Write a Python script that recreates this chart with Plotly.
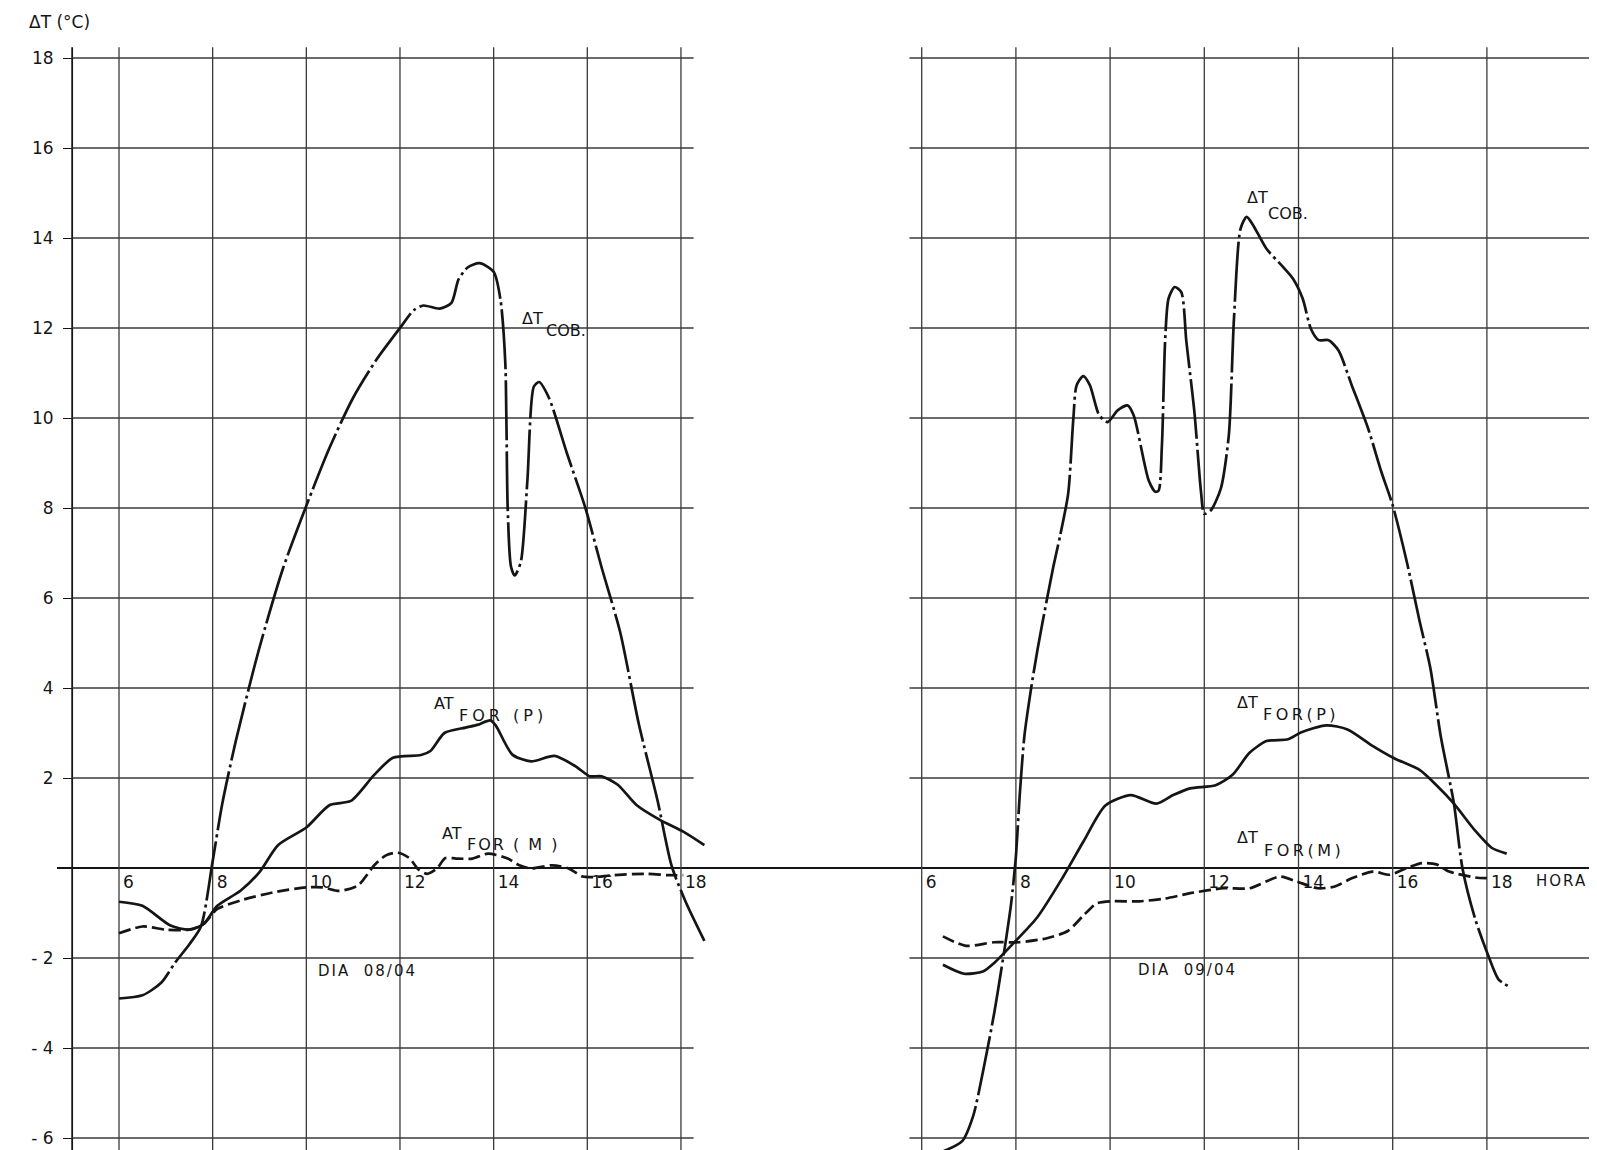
import plotly.graph_objects as go

# ---------------- data ----------------
x_ticks = [6, 8, 10, 12, 14, 16, 18]
x_ticktext = ["6", "8", "10", "12", "14", "16", "18"]
y_ticks = [18, 16, 14, 12, 10, 8, 6, 4, 2, -2, -4, -6]
y_ticktext = ["18", "16", "14", "12", "10", "8", "6", "4", "2", "- 2", "- 4", "- 6"]
grid_levels = [18, 16, 14, 12, 10, 8, 6, 4, 2, -2, -4, -6]

# Dia 08/04 (left panel)
cob_l_h = [6.0, 6.5, 6.9, 7.2, 7.5, 7.75, 8.0, 8.2, 8.5, 9.0, 9.5, 10.0, 10.5, 11.0, 11.5, 12.0, 12.3, 12.5,
           12.85, 13.1, 13.25, 13.45, 13.7, 14.0, 14.15, 14.25, 14.3, 14.37, 14.45, 14.58, 14.72, 14.86, 14.97,
           15.18, 15.57, 15.96, 16.3, 16.7, 17.1, 17.5, 17.8, 18.1, 18.5]
cob_l_v = [-2.9, -2.83, -2.55, -2.1, -1.7, -1.3, 0.15, 1.4, 2.85, 4.9, 6.65, 8.05, 9.35, 10.45, 11.3, 12.0, 12.4,
           12.5, 12.43, 12.56, 13.08, 13.35, 13.44, 13.25, 12.6, 11.2, 8.0, 6.7, 6.5, 6.8, 8.6, 10.7, 10.8,
           10.45, 9.2, 8.0, 6.7, 5.25, 3.2, 1.5, 0.05, -0.75, -1.62]

forp_l_h = [6.0, 6.5, 7.1, 7.5, 7.8, 8.1, 8.6, 9.0, 9.4, 10.0, 10.5, 10.95, 11.45, 11.85, 12.45, 12.65, 12.95,
            13.4, 13.65, 13.93, 14.05, 14.4, 14.8, 15.3, 15.75, 16.05, 16.3, 16.65, 17.05, 17.55, 18.05, 18.5]
forp_l_v = [-0.75, -0.84, -1.28, -1.37, -1.25, -0.84, -0.5, -0.09, 0.51, 0.9, 1.4, 1.49, 2.07, 2.45, 2.51, 2.6,
            3.0, 3.12, 3.18, 3.28, 3.16, 2.52, 2.37, 2.49, 2.26, 2.04, 2.04, 1.85, 1.4, 1.07, 0.81, 0.51]

form_l_h = [6.0, 6.5, 7.0, 7.5, 7.8, 8.1, 8.6, 9.3, 10.0, 10.35, 10.7, 11.1, 11.45, 11.7, 11.95, 12.2, 12.4,
            12.58, 12.78, 12.97, 13.2, 13.55, 13.88, 14.3, 14.55, 14.8, 15.25, 15.6, 15.9, 16.15, 16.55, 17.25,
            17.75, 18.05]
form_l_v = [-1.45, -1.3, -1.37, -1.37, -1.25, -0.91, -0.72, -0.54, -0.43, -0.43, -0.51, -0.39, 0.06, 0.28, 0.34,
            0.22, -0.04, -0.13, -0.02, 0.22, 0.21, 0.21, 0.32, 0.21, 0.06, -0.01, 0.06, -0.01, -0.19, -0.2, -0.16,
            -0.13, -0.16, -0.16]

# Dia 09/04 (right panel)
cob_r_h = [6.45, 6.86, 7.09, 7.31, 7.54, 7.69, 7.8, 7.9, 8.0, 8.08, 8.18, 8.32, 8.46, 8.66, 8.8, 8.94, 9.11,
           9.22, 9.29, 9.43, 9.57, 9.77, 9.95, 10.16, 10.37, 10.5, 10.82, 10.96, 11.03, 11.1, 11.17, 11.24,
           11.37, 11.51, 11.62, 11.79, 11.93, 12.0, 12.14, 12.35, 12.52, 12.63, 12.77, 12.9, 13.04, 13.32,
           13.67, 13.88, 14.09, 14.26, 14.43, 14.64, 14.85, 15.13, 15.48, 15.76, 16.0, 16.3, 16.57, 16.8,
           17.02, 17.3, 17.48, 17.75, 18.02, 18.25, 18.5]
cob_r_v = [-6.3, -6.07, -5.52, -4.48, -3.22, -2.26, -1.52, -0.78, 0.26, 1.6, 2.93, 3.97, 4.86, 5.98, 6.72, 7.39,
           8.32, 9.99, 10.73, 10.93, 10.73, 10.06, 9.91, 10.17, 10.28, 10.06, 8.61, 8.36, 8.39, 9.39, 11.76,
           12.65, 12.91, 12.8, 11.69, 10.13, 8.36, 7.87, 7.95, 8.43, 9.61, 12.21, 14.21, 14.47, 14.28, 13.76,
           13.36, 13.1, 12.65, 11.99, 11.73, 11.73, 11.5, 10.73, 9.76, 8.8, 8.06, 6.8, 5.49, 4.44, 2.93, 1.43,
           0.0, -1.13, -1.92, -2.48, -2.65]

forp_r_h = [6.45, 6.9, 7.3, 7.55, 7.95, 8.45, 9.0, 9.44, 9.9, 10.44, 10.98, 11.34, 11.7, 12.24, 12.6, 12.96,
            13.32, 13.78, 14.05, 14.59, 15.04, 15.58, 16.03, 16.57, 16.93, 17.3, 17.75, 18.1, 18.42]
forp_r_v = [-2.15, -2.35, -2.3, -2.1, -1.67, -1.1, -0.2, 0.6, 1.39, 1.62, 1.43, 1.62, 1.77, 1.84, 2.07, 2.56,
            2.82, 2.86, 3.01, 3.17, 3.08, 2.71, 2.44, 2.18, 1.84, 1.43, 0.83, 0.45, 0.32]

form_r_h = [6.45, 6.94, 7.54, 8.06, 8.66, 9.1, 9.44, 9.71, 10.03, 10.62, 11.16, 11.7, 12.42, 12.96, 13.6, 13.96,
            14.41, 14.77, 15.13, 15.58, 15.94, 16.3, 16.62, 16.93, 17.2, 17.75, 18.1]
form_r_v = [-1.52, -1.73, -1.65, -1.65, -1.56, -1.4, -1.05, -0.79, -0.74, -0.74, -0.68, -0.56, -0.45, -0.45,
            -0.19, -0.3, -0.45, -0.41, -0.23, -0.08, -0.15, 0.0, 0.11, 0.08, -0.08, -0.21, -0.23]

# ---------------- styles ----------------
INK = "#151515"
GRID = "#3a3a3a"
FONT = "DejaVu Sans"
W, H = 1597, 1150
OFF = 8  # page body margin compensation (px)
DASHDOT = "60px,4px,3px,4px"
DASHED = "12px,5px"

fig = go.Figure()


def curve(xs, ys, xa, dash, name):
    fig.add_trace(go.Scatter(
        x=xs, y=ys, xaxis=xa, yaxis="y", mode="lines", name=name,
        line=dict(color=INK, width=2.7, dash=dash, shape="spline", smoothing=0.7),
        showlegend=False, hoverinfo="skip"))


curve(cob_l_h, cob_l_v, "x", DASHDOT, "ΔT COB 08/04")
curve(forp_l_h, forp_l_v, "x", "solid", "ΔT FOR(P) 08/04")
curve(form_l_h, form_l_v, "x", DASHED, "ΔT FOR(M) 08/04")
curve(cob_r_h, cob_r_v, "x2", DASHDOT, "ΔT COB 09/04")
curve(forp_r_h, forp_r_v, "x2", "solid", "ΔT FOR(P) 09/04")
curve(form_r_h, form_r_v, "x2", DASHED, "ΔT FOR(M) 09/04")

# ---------------- grid (shapes built from tick arrays) ----------------
shapes = []
grid_line = dict(color=GRID, width=1.3)
v_top, v_bot = 18.24, -6.6
left_axis_h, left_end_h = 5.0, 18.27
right_start_h, right_end_h = 5.74, 20.2

shapes.append(dict(type="line", xref="x", yref="y", x0=left_axis_h, x1=left_axis_h, y0=v_bot, y1=v_top,
                   line=dict(color=INK, width=1.8), layer="below"))
for lv in grid_levels:
    shapes.append(dict(type="line", xref="x", yref="y", x0=left_axis_h, x1=left_end_h, y0=lv, y1=lv,
                       line=grid_line, layer="below"))
    shapes.append(dict(type="line", xref="x2", yref="y", x0=right_start_h, x1=right_end_h, y0=lv, y1=lv,
                       line=grid_line, layer="below"))
for h in x_ticks:
    shapes.append(dict(type="line", xref="x", yref="y", x0=h, x1=h, y0=v_bot, y1=v_top,
                       line=grid_line, layer="below"))
    shapes.append(dict(type="line", xref="x2", yref="y", x0=h, x1=h, y0=v_bot, y1=v_top,
                       line=grid_line, layer="below"))
shapes.append(dict(type="line", xref="paper", yref="y", x0=(57 - OFF) / W, x1=(1594 - OFF) / W, y0=0, y1=0,
                   line=dict(color=INK, width=2.2), layer="below"))

# ---------------- annotations ----------------
ann = []


def label(text, x, y, xref, size=16, spacing=0):
    if spacing:
        text = '<span style="letter-spacing:%spx">%s</span>' % (spacing, text)
    ann.append(dict(text=text, x=x, y=y, xref=xref, yref="y", xanchor="left", yanchor="middle",
                    showarrow=False, font=dict(family=FONT, size=size, color=INK)))


label("ΔT", 14.56, 12.22, "x")
label("COB.", 15.08, 11.95, "x")
label("AT", 12.68, 3.66, "x")
label("FOR (P)", 13.22, 3.4, "x", spacing=4)
label("AT", 12.85, 0.77, "x")
label("FOR ( M )", 13.38, 0.52, "x", spacing=2)
label("DIA  08/04", 10.2, -2.29, "x", size=15, spacing=2)

label("ΔT", 12.86, 14.9, "x2")
label("COB.", 13.32, 14.55, "x2")
label("ΔT", 12.66, 3.68, "x2")
label("FOR(P)", 13.2, 3.42, "x2", spacing=3.5)
label("ΔT", 12.66, 0.68, "x2")
label("FOR(M)", 13.22, 0.4, "x2", spacing=3.5)
label("DIA  09/04", 10.55, -2.27, "x2", size=15, spacing=2)
label("HORA", 19.0, -0.28, "x2", size=15, spacing=2)

ann.append(dict(text="ΔT (°C)", x=(27 - OFF) / W, y=1 - (22 - OFF) / H, xref="paper", yref="paper",
                xanchor="left", yanchor="middle", showarrow=False,
                font=dict(family=FONT, size=17, color=INK)))

# ---------------- axes ----------------
tickfont = dict(family=FONT, size=17, color=INK)
zero_pos = 1 - (868 - OFF) / H

# pixel anchors (in screenshot px): hour 6 at 119 (left) / 921.7 (right), value 18 at 58, 45 px per unit
lx6, lpx = 119 - OFF, 46.83
rx6, rpx = 921.7 - OFF, 47.1
y18, ypx = 58 - OFF, 45.0

fig.update_layout(
    width=W, height=H,
    margin=dict(l=0, r=0, t=0, b=0, pad=0),
    paper_bgcolor="white", plot_bgcolor="white",
    showlegend=False,
    shapes=shapes,
    annotations=ann,
    xaxis=dict(domain=[0, 0.5], range=[6 - lx6 / lpx, 6 + (W / 2 - lx6) / lpx], anchor="free",
               position=zero_pos, tickmode="array", tickvals=x_ticks, ticktext=x_ticktext, ticks="",
               ticklabelposition="outside right", ticklabelshift=4, ticklabelstandoff=2,
               showgrid=False, zeroline=False, showline=False, tickfont=tickfont, fixedrange=True),
    xaxis2=dict(domain=[0.5, 1], range=[6 - (rx6 - W / 2) / rpx, 6 + (W - rx6) / rpx], anchor="free",
                position=zero_pos, tickmode="array", tickvals=x_ticks, ticktext=x_ticktext, ticks="",
                ticklabelposition="outside right", ticklabelshift=4, ticklabelstandoff=2,
                showgrid=False, zeroline=False, showline=False, tickfont=tickfont, fixedrange=True),
    yaxis=dict(domain=[0, 1], range=[18 - (H - y18) / ypx, 18 + y18 / ypx], anchor="free",
               position=(73 - OFF) / W, tickmode="array", tickvals=y_ticks, ticktext=y_ticktext,
               ticks="outside", ticklen=10, tickwidth=1.4, tickcolor=INK, ticklabelstandoff=6,
               showgrid=False, zeroline=False, showline=False, tickfont=tickfont, fixedrange=True),
)

fig.write_html("out.html")
